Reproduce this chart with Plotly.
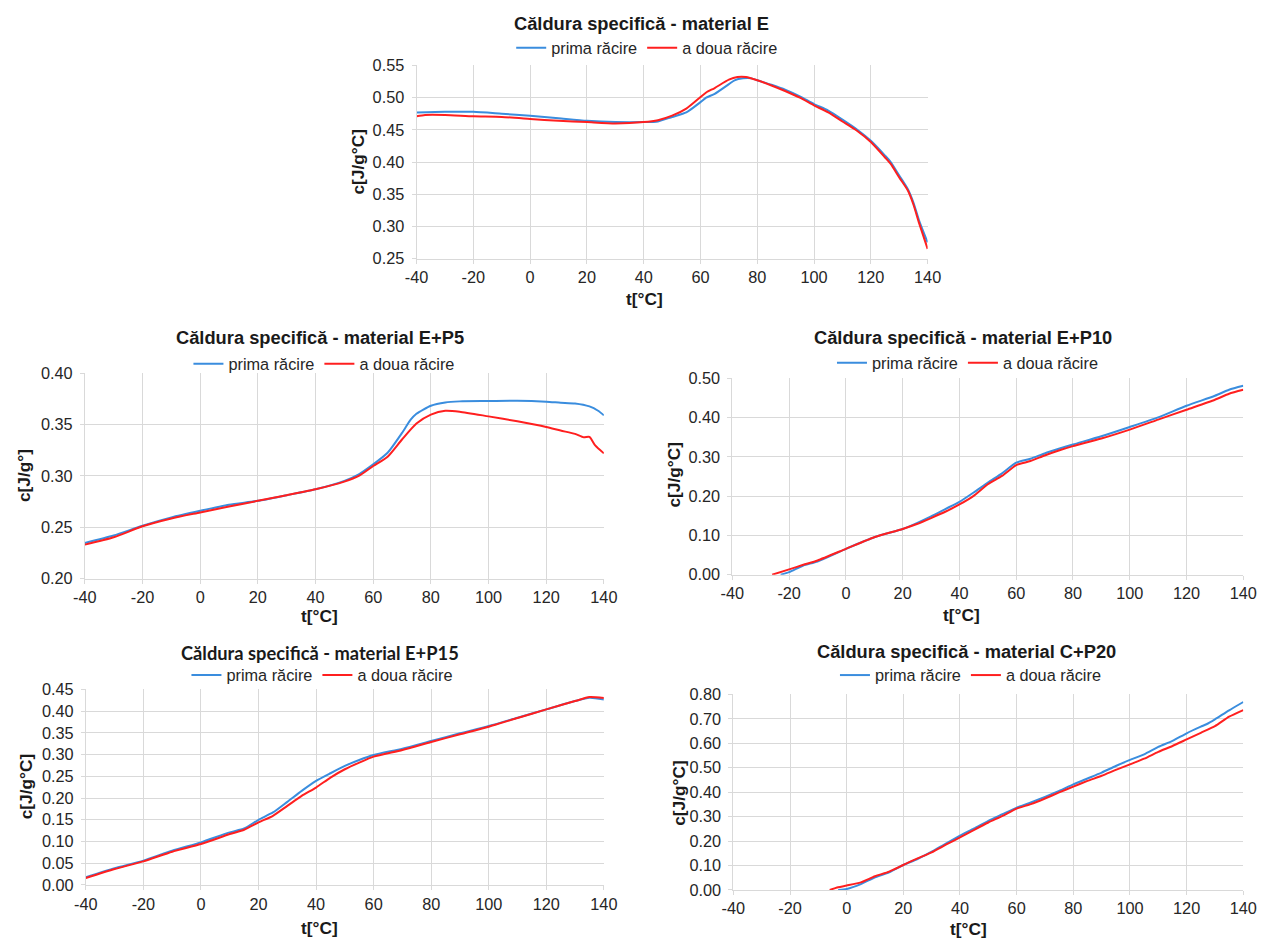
import plotly.graph_objects as go

W, H = 1271, 940
# The photographed page shows the figure offset by the body's default 8px margin
# and reduced by ~0.983; target positions (in picture pixels) are mapped back.
BODY_MARGIN = 8
SHOT_SCALE = 0.9833

# ---------------- data ----------------
# Panel 1: material E
e_t_blue = [-40, -30, -20, -10, 0, 10, 20, 30, 40, 45, 50, 55, 60, 62, 65, 70, 72, 75, 78, 80, 85, 90, 95, 100,
            105, 110, 115, 120, 125, 127, 130, 133, 135, 137, 140]
e_c_blue = [0.477, 0.478, 0.478, 0.475, 0.472, 0.468, 0.464, 0.462, 0.462, 0.463, 0.470, 0.477, 0.493, 0.500,
            0.506, 0.521, 0.527, 0.530, 0.530, 0.527, 0.520, 0.512, 0.502, 0.490, 0.480, 0.466, 0.451, 0.433,
            0.410, 0.400, 0.379, 0.358, 0.337, 0.309, 0.275]
e_t_red = [-40, -37, -30, -20, -10, 0, 10, 20, 30, 40, 45, 50, 55, 60, 62, 65, 70, 73, 76, 80, 85, 90, 95, 100,
           105, 110, 115, 120, 125, 127, 130, 133, 135, 137, 140]
e_c_red = [0.471, 0.473, 0.473, 0.471, 0.470, 0.467, 0.464, 0.462, 0.460, 0.462, 0.465, 0.472, 0.483, 0.501,
           0.508, 0.515, 0.528, 0.532, 0.532, 0.527, 0.519, 0.510, 0.500, 0.488, 0.477, 0.463, 0.449, 0.431,
           0.407, 0.397, 0.376, 0.356, 0.334, 0.305, 0.265]

# Panel 2: material E+P5
p5_t_blue = [-40, -30, -20, -10, 0, 10, 20, 30, 40, 50, 55, 60, 65, 70, 73, 75, 80, 85, 90, 100, 110, 120, 125,
             130, 135, 138, 140]
p5_c_blue = [0.2348, 0.2420, 0.2516, 0.2597, 0.2661, 0.2720, 0.2758, 0.2813, 0.2870, 0.2952, 0.3016, 0.3113,
             0.3226, 0.3419, 0.3548, 0.3606, 0.3684, 0.3716, 0.3726, 0.3729, 0.3732, 0.3723, 0.3713, 0.3706,
             0.3677, 0.3635, 0.3590]
p5_t_red = [-40, -30, -20, -10, 0, 10, 20, 30, 40, 50, 55, 60, 65, 70, 75, 80, 85, 90, 100, 110, 120, 125, 130,
            133, 135, 137, 140]
p5_c_red = [0.2332, 0.2403, 0.2510, 0.2587, 0.2645, 0.2703, 0.2758, 0.2813, 0.2870, 0.2945, 0.3000, 0.3097,
            0.3187, 0.3355, 0.3510, 0.3597, 0.3635, 0.3626, 0.3580, 0.3532, 0.3477, 0.3442, 0.3410, 0.3377,
            0.3380, 0.3297, 0.3220]

# Panel 3: material E+P10
p10_t_blue = [-23, -20, -15, -10, 0, 10, 20, 25, 30, 35, 40, 45, 50, 55, 60, 65, 70, 75, 80, 90, 100, 110, 120,
              130, 135, 140]
p10_c_blue = [0.000, 0.0067, 0.0236, 0.0337, 0.0658, 0.0953, 0.1164, 0.1315, 0.1484, 0.1670, 0.1855, 0.2091,
              0.2344, 0.2580, 0.2850, 0.2951, 0.3086, 0.3204, 0.3314, 0.3524, 0.3760, 0.4005, 0.4300, 0.4553,
              0.4705, 0.4806]
p10_t_red = [-26, -20, -15, -10, 0, 10, 20, 25, 30, 35, 40, 45, 50, 55, 60, 65, 70, 75, 80, 90, 100, 110, 120,
             130, 135, 140]
p10_c_red = [0.000, 0.0135, 0.0253, 0.0363, 0.0658, 0.0953, 0.1164, 0.1290, 0.1442, 0.1602, 0.1788, 0.2007,
             0.2302, 0.2513, 0.2791, 0.2892, 0.3035, 0.3162, 0.3272, 0.3466, 0.3693, 0.3946, 0.4199, 0.4452,
             0.4604, 0.4705]

# Panel 4: material E+P15
p15_t = [-40, -30, -20, -10, 0, 10, 15, 20, 25, 30, 35, 40, 45, 50, 55, 60, 70, 80, 90, 100, 110, 120, 130, 135, 140]
p15_c_blue = [0.0176, 0.0383, 0.0559, 0.0788, 0.0980, 0.1210, 0.1300, 0.1500, 0.1668, 0.1913, 0.2165, 0.2395,
              0.2571, 0.2739, 0.2877, 0.2992, 0.3137, 0.3314, 0.3490, 0.3658, 0.3850, 0.4041, 0.4232, 0.4309,
              0.4270]
p15_c_red = [0.0161, 0.0367, 0.0543, 0.0765, 0.0941, 0.1171, 0.1270, 0.1439, 0.1592, 0.1821, 0.2051, 0.2242,
             0.2472, 0.2663, 0.2816, 0.2954, 0.3107, 0.3291, 0.3467, 0.3643, 0.3842, 0.4041, 0.4232, 0.4324,
             0.4301]

# Panel 5: material C+P20
p20_t_blue = [-3, 0, 5, 10, 15, 20, 25, 30, 35, 40, 45, 50, 55, 60, 65, 70, 75, 80, 85, 90, 95, 100, 105, 110,
              115, 120, 125, 127, 130, 135, 140]
p20_c_blue = [0.000, 0.004, 0.024, 0.052, 0.072, 0.102, 0.1265, 0.1565, 0.190, 0.222, 0.252, 0.283, 0.310,
              0.337, 0.358, 0.381, 0.405, 0.432, 0.456, 0.480, 0.507, 0.532, 0.555, 0.585, 0.610, 0.641, 0.668,
              0.678, 0.698, 0.735, 0.769]
p20_t_red = [-6, -3, 0, 5, 10, 15, 20, 25, 30, 35, 40, 45, 50, 55, 60, 65, 70, 75, 80, 85, 90, 95, 100, 105, 110,
             115, 120, 125, 130, 135, 140]
p20_c_red = [0.000, 0.011, 0.018, 0.031, 0.056, 0.075, 0.102, 0.129, 0.154, 0.185, 0.215, 0.246, 0.276, 0.303,
             0.333, 0.351, 0.374, 0.399, 0.423, 0.446, 0.467, 0.491, 0.514, 0.537, 0.565, 0.589, 0.616, 0.643,
             0.670, 0.709, 0.736]

series_names = ["prima răcire", "a doua răcire"]
titles = ["Căldura specifică - material E", "Căldura specifică - material E+P5",
          "Căldura specifică - material E+P10", "Căldura specifică - material E+P15",
          "Căldura specifică - material C+P20"]
y_titles = ["c[J/g°C]", "c[J/g°]", "c[J/g°C]", "c[J/g°C]", "c[J/g°C]"]
x_title = "t[°C]"
x_tick_vals = [-40, -20, 0, 20, 40, 60, 80, 100, 120, 140]
x_tick_text = ["-40", "-20", "0", "20", "40", "60", "80", "100", "120", "140"]
x_range = [-40, 140]
y_ranges = [[0.25, 0.55], [0.20, 0.40], [0.0, 0.50], [0.0, 0.45], [0.0, 0.80]]
y_dticks = [0.05, 0.05, 0.1, 0.05, 0.1]

# ---------------- styling / geometry ----------------
BLUE = "#3A8DDE"
RED = "#FF1F1F"
GRID = "#D9D9D9"
FONT = "Liberation Sans, Arial, sans-serif"
K = 1 / SHOT_SCALE

def fx(x):
    # picture pixel -> figure pixel
    return x * K - BODY_MARGIN

def px(x, limit=None):
    f = fx(x)
    if limit is not None:
        f = min(f, limit)
    return f / W

def py(y):
    return 1 - fx(y) / H

def fs(s):
    return round(s * K, 1)

# plot boxes in picture pixels: left, right, top, bottom
boxes = [(414, 927, 64.5, 258), (81, 602, 373, 579), (731, 1257, 378, 575),
         (82, 602, 690, 886), (732, 1252, 695, 891)]
title_pos = [(640, 22), (317, 337), (963, 337), (317, 653), (966, 652)]
legend_pos = [(645, 47), (321, 364), (967, 363), (319, 676), (970, 676)]
xtitle_pos = [(643, 299), (317, 616), (961, 615), (317, 929), (968, 930)]
ytitle_pos = [(355, 161), (20, 476), (672, 475), (22, 788), (678, 794)]
RIGHT_LIMIT = W - 14  # keep the last tick label inside the figure

data = [
    ((e_t_blue, e_c_blue), (e_t_red, e_c_red)),
    ((p5_t_blue, p5_c_blue), (p5_t_red, p5_c_red)),
    ((p10_t_blue, p10_c_blue), (p10_t_red, p10_c_red)),
    ((p15_t, p15_c_blue), (p15_t, p15_c_red)),
    ((p20_t_blue, p20_c_blue), (p20_t_red, p20_c_red)),
]

fig = go.Figure()
layout = dict(
    width=W, height=H, margin=dict(l=0, r=0, t=0, b=0, pad=0),
    paper_bgcolor="white", plot_bgcolor="white",
    font=dict(family=FONT, size=fs(16), color="#262626"),
    showlegend=True,
)
annotations = []

for i in range(5):
    n = "" if i == 0 else str(i + 1)
    xa, ya = "x" + n, "y" + n
    leg = "legend" + n
    (tb, cb), (tr, cr) = data[i]
    fig.add_trace(go.Scatter(x=tb, y=cb, mode="lines", name=series_names[0], xaxis=xa, yaxis=ya,
                             line=dict(color=BLUE, width=2, shape="spline", smoothing=0.6), legend=leg))
    fig.add_trace(go.Scatter(x=tr, y=cr, mode="lines", name=series_names[1], xaxis=xa, yaxis=ya,
                             line=dict(color=RED, width=2, shape="spline", smoothing=0.6), legend=leg))
    l, r, t, b = boxes[i]
    layout["xaxis" + n] = dict(
        domain=[px(l), px(r, RIGHT_LIMIT)], anchor=ya, range=x_range,
        tickmode="array", tickvals=x_tick_vals, ticktext=x_tick_text,
        showgrid=True, gridcolor=GRID, gridwidth=1, zeroline=False,
        showline=True, linecolor=GRID, linewidth=1, ticks="outside", ticklen=4, tickcolor=GRID,
        tickfont=dict(size=fs(16), color="#262626"), fixedrange=True,
    )
    layout["yaxis" + n] = dict(
        domain=[py(b), py(t)], anchor=xa, range=y_ranges[i], dtick=y_dticks[i], tick0=0,
        tickformat=".2f", showgrid=True, gridcolor=GRID, gridwidth=1, zeroline=False,
        showline=True, linecolor=GRID, linewidth=1, ticks="outside", ticklen=4, tickcolor=GRID,
        tickfont=dict(size=fs(16), color="#262626"), fixedrange=True, ticklabelstandoff=4,
    )
    lx, ly = legend_pos[i]
    layout[leg] = dict(
        orientation="h", x=px(lx), y=py(ly), xanchor="center", yanchor="middle",
        font=dict(family=FONT, size=fs(16), color="#262626"), bgcolor="rgba(0,0,0,0)",
        itemwidth=30, tracegroupgap=0,
    )
    tx, ty = title_pos[i]
    tfont = dict(family=FONT, size=fs(18), color="#1a1a1a")
    if i == 3:
        tfont = dict(family="Lato, Liberation Sans, sans-serif", size=fs(18), color="#1a1a1a")
    annotations.append(dict(text="<b>" + titles[i] + "</b>", x=px(tx), y=py(ty), xref="paper", yref="paper",
                            xanchor="center", yanchor="middle", showarrow=False, font=tfont))
    xx, xy = xtitle_pos[i]
    annotations.append(dict(text="<b>" + x_title + "</b>", x=px(xx), y=py(xy), xref="paper", yref="paper",
                            xanchor="center", yanchor="middle", showarrow=False,
                            font=dict(family=FONT, size=fs(17), color="#1a1a1a")))
    yx, yy = ytitle_pos[i]
    annotations.append(dict(text="<b>" + y_titles[i] + "</b>", x=px(yx), y=py(yy), xref="paper", yref="paper",
                            xanchor="center", yanchor="middle", showarrow=False, textangle=-90,
                            font=dict(family=FONT, size=fs(17), color="#1a1a1a")))

layout["annotations"] = annotations
fig.update_layout(**layout)
fig.write_html("out.html", config={"displayModeBar": False})
